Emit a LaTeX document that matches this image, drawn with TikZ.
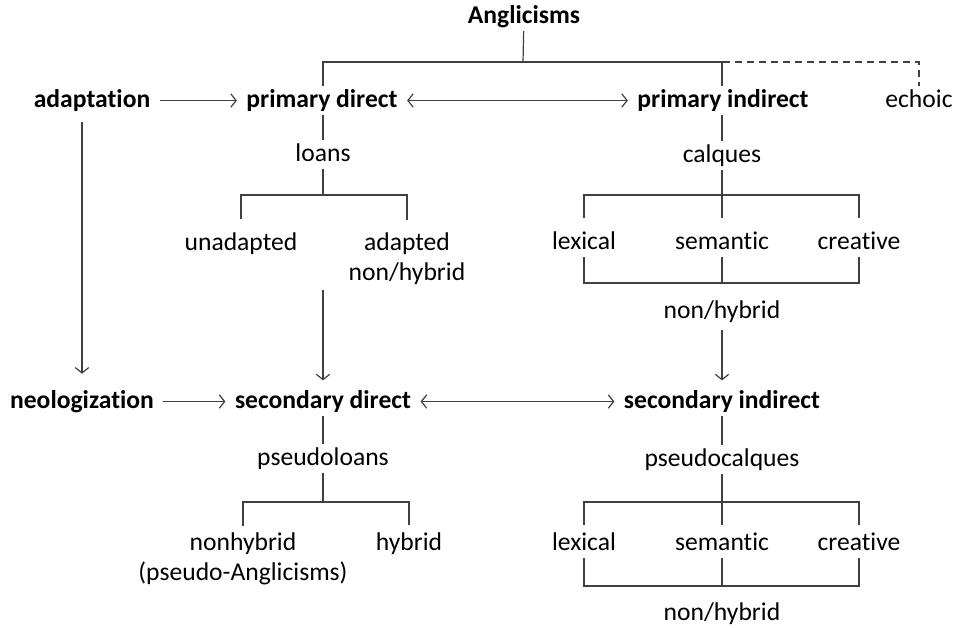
\documentclass[tikz,border=0pt]{standalone}
\usepackage{fontspec}
\setmainfont{Carlito}[Ligatures=NoCommon]
\usetikzlibrary{arrows.meta}
\begin{document}
\begin{tikzpicture}[x=0.75pt, y=-0.75pt,
  every node/.style={font=\fontsize{19.2}{22.5}\selectfont, anchor=base, align=center, inner xsep=2pt, inner ysep=1.5pt, text height=14pt, text depth=4.3pt},
  head/.style={font=\fontsize{19.2}{22.5}\selectfont\bfseries},
  twoline/.style={text height=, text depth=},
  line/.style={draw=black!75, line width=0.9pt},
  arr/.style={line, ->, shorten <=5pt, shorten >=5pt},
  drop/.style={line, shorten <=7.5pt, shorten >=7.5pt},
  >={Straight Barb[length=4pt, width=10pt]}]
\useasboundingbox (0,0) rectangle (958,628);
\coordinate (jtop) at (523,62);
\coordinate (jl) at (323,195);
\coordinate (jc) at (722,195);
\coordinate (jn) at (722,283);
\coordinate (jp) at (323,502);
\coordinate (jq) at (722,502);
\coordinate (jn2) at (722,586);
\node[head] (angl) at (524,23) {Anglicisms};
\node[head] (adapt) at (92,107) {adaptation};
\node[head] (pd) at (322,107) {primary direct};
\node[head] (pi) at (723,107) {primary indirect};
\node (echoic) at (919,107) {echoic};
\node (loans) at (323,161) {loans};
\node (calques) at (722,162) {calques};
\node (unad) at (241,250) {unadapted};
\node[twoline] (adap) at (407,280) {adapted\\non/hybrid};
\node (lex1) at (584,249) {lexical};
\node (sem1) at (722,249) {semantic};
\node (cre1) at (859,249) {creative};
\node (nh1) at (722,318) {non/hybrid};
\node[head] (neo) at (82,408) {neologization};
\node[head] (sd) at (323,408) {secondary direct};
\node[head] (sind) at (722,408) {secondary indirect};
\node (ploans) at (323,465) {pseudoloans};
\node (pcalq) at (722,466) {pseudocalques};
\node[twoline] (nonhyb) at (243,580) {nonhybrid\\(pseudo-Anglicisms)};
\node (hyb) at (409,550) {hybrid};
\node (lex2) at (584,550) {lexical};
\node (sem2) at (722,550) {semantic};
\node (cre2) at (859,550) {creative};
\node (nh2) at (722,620) {non/hybrid};
\draw[line] (angl) -- (jtop);
\draw[line] (pd.north -| jl) |- (jtop) -| (pi.north -| jc);
\draw[line, dash pattern=on 5pt off 4pt] (pi |- jtop) -| (echoic);
\draw[arr] (adapt) -- (pd);
\draw[arr, <->] (pd) -- (pi);
\draw[arr, shorten >=10pt] (neo |- adapt.south) -- (neo);
\draw[line] (pd.south -| jl) -- (loans);
\draw[line] (loans) -- (jl);
\draw[drop] (unad) |- (jl) -| (adap);
\draw[arr, shorten <=3pt] (sd |- adap.south) -- (sd);
\draw[line] (pi.south -| jc) -- (calques);
\draw[line, shorten >=7.5pt] (calques) -- (sem1);
\draw[drop] (lex1) |- (jc) -| (cre1);
\draw[line] (lex1) |- (jn) -| (cre1);
\draw[line] (sem1) -- (jn);
\draw[arr, shorten <=3pt] (nh1) -- (sind);
\draw[arr] (neo) -- (sd);
\draw[arr, <->] (sd) -- (sind);
\draw[line] (sd) -- (ploans);
\draw[line] (ploans) -- (jp);
\draw[line, shorten <=3pt, shorten >=3pt] (nonhyb) |- (jp) -| (hyb);
\draw[line] (sind) -- (pcalq);
\draw[line, shorten >=3pt] (pcalq) -- (sem2);
\draw[line, shorten <=3pt, shorten >=3pt] (lex2) |- (jq) -| (cre2);
\draw[line] (lex2) |- (jn2) -| (cre2);
\draw[line] (sem2) -- (jn2);
\end{tikzpicture}
\end{document}
